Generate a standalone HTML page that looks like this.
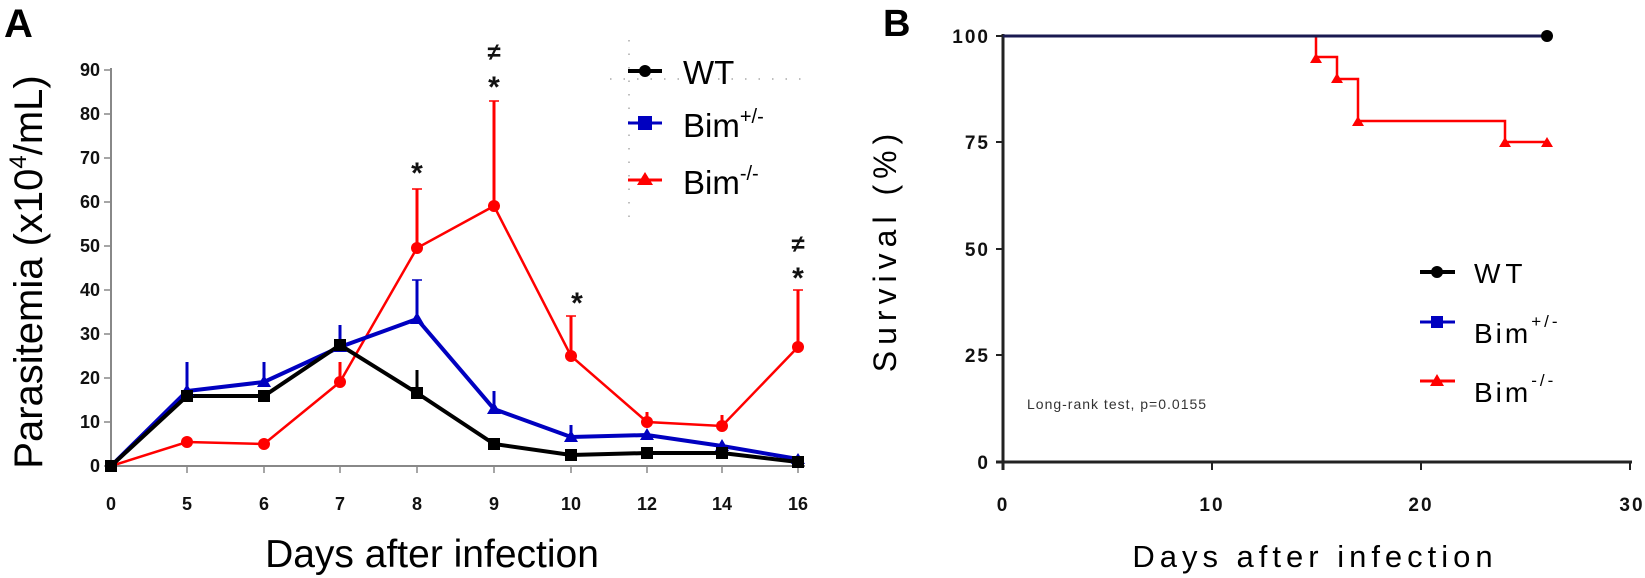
<!DOCTYPE html>
<html><head><meta charset="utf-8"><style>
html,body{margin:0;padding:0;background:#fff;}
svg{display:block;font-family:"Liberation Sans",Arial,sans-serif;}
</style></head><body>
<svg width="1645" height="578" viewBox="0 0 1645 578" xmlns="http://www.w3.org/2000/svg">
<!-- Panel A -->
<text x="4" y="37" font-size="40" font-weight="bold">A</text>
<text transform="translate(42,272) rotate(-90)" text-anchor="middle" font-size="40">Parasitemia (x10<tspan font-size="24" dy="-16">4</tspan><tspan dy="16">/mL)</tspan></text>
<g stroke="#888" stroke-width="2" fill="none">
<line x1="111" y1="68" x2="111" y2="467"/>
<line x1="111" y1="466" x2="805" y2="466"/>
<g stroke-width="1.5">
<line x1="104" y1="70" x2="111" y2="70"/><line x1="104" y1="114" x2="111" y2="114"/><line x1="104" y1="158" x2="111" y2="158"/><line x1="104" y1="202" x2="111" y2="202"/><line x1="104" y1="246" x2="111" y2="246"/><line x1="104" y1="290" x2="111" y2="290"/><line x1="104" y1="334" x2="111" y2="334"/><line x1="104" y1="378" x2="111" y2="378"/><line x1="104" y1="422" x2="111" y2="422"/><line x1="104" y1="466" x2="111" y2="466"/>
<line x1="187" y1="466" x2="187" y2="473"/><line x1="264" y1="466" x2="264" y2="473"/><line x1="340" y1="466" x2="340" y2="473"/><line x1="417" y1="466" x2="417" y2="473"/><line x1="494" y1="466" x2="494" y2="473"/><line x1="571" y1="466" x2="571" y2="473"/><line x1="647" y1="466" x2="647" y2="473"/><line x1="722" y1="466" x2="722" y2="473"/><line x1="798" y1="466" x2="798" y2="473"/>
</g></g>
<g font-size="18" font-weight="bold" text-anchor="end" fill="#111">
<text x="100" y="76">90</text><text x="100" y="120">80</text><text x="100" y="164">70</text><text x="100" y="208">60</text><text x="100" y="252">50</text><text x="100" y="296">40</text><text x="100" y="340">30</text><text x="100" y="384">20</text><text x="100" y="428">10</text><text x="100" y="472">0</text>
</g>
<g font-size="18" font-weight="bold" text-anchor="middle" fill="#111">
<text x="111" y="510">0</text><text x="187" y="510">5</text><text x="264" y="510">6</text><text x="340" y="510">7</text><text x="417" y="510">8</text><text x="494" y="510">9</text><text x="571" y="510">10</text><text x="647" y="510">12</text><text x="722" y="510">14</text><text x="798" y="510">16</text>
</g>
<text x="432" y="567" font-size="39" text-anchor="middle">Days after infection</text>
<!-- legend A -->
<g stroke="#aaa" stroke-width="1.5" stroke-dasharray="1.5 12" fill="none">
<line x1="610" y1="79" x2="805" y2="79"/><line x1="629" y1="40" x2="629" y2="218"/>
</g>
<line x1="628" y1="71" x2="662" y2="71" stroke="#000" stroke-width="4"/><circle cx="645" cy="71" r="6" fill="#000"/>
<line x1="628" y1="123" x2="662" y2="123" stroke="#0000c0" stroke-width="3"/><rect x="638" y="116" width="14" height="14" fill="#0000c0"/>
<line x1="628" y1="180" x2="662" y2="180" stroke="#f00" stroke-width="3"/><polygon points="645,172 653,185 637,185" fill="#f00"/>
<text x="683" y="84" font-size="33">WT</text>
<text x="683" y="137" font-size="33">Bim<tspan font-size="20" dy="-14">+/-</tspan></text>
<text x="683" y="194" font-size="33">Bim<tspan font-size="20" dy="-14">-/-</tspan></text>
<!-- error bars -->
<g stroke-width="3" fill="none">
<g stroke="#000"><line x1="187" y1="396" x2="187" y2="383"/><line x1="340" y1="345" x2="340" y2="328"/><line x1="417" y1="393" x2="417" y2="370"/></g>
<g stroke="#0000c0"><line x1="187" y1="391" x2="187" y2="362"/><line x1="264" y1="382" x2="264" y2="362"/><line x1="340" y1="347" x2="340" y2="325"/><line x1="417" y1="319" x2="417" y2="280"/><line x1="494" y1="409" x2="494" y2="391"/><line x1="571" y1="437" x2="571" y2="425"/></g>
<g stroke="#f00"><line x1="340" y1="382" x2="340" y2="362"/><line x1="417" y1="248" x2="417" y2="189"/><line x1="494" y1="206" x2="494" y2="101"/><line x1="571" y1="356" x2="571" y2="316"/><line x1="647" y1="422" x2="647" y2="412"/><line x1="722" y1="426" x2="722" y2="415"/><line x1="798" y1="347" x2="798" y2="290"/></g>
</g>
<g stroke-width="1.5"><line x1="412" y1="189" x2="422" y2="189" stroke="#f00"/><line x1="489" y1="101" x2="499" y2="101" stroke="#f00"/><line x1="566" y1="316" x2="576" y2="316" stroke="#f00"/><line x1="793" y1="290" x2="803" y2="290" stroke="#f00"/><line x1="412" y1="280" x2="422" y2="280" stroke="#0000c0"/></g>
<!-- series -->
<polyline points="111,466 187,442 264,444 340,382 417,248 494,206 571,356 647,422 722,426 798,347" fill="none" stroke="#f00" stroke-width="2.5"/>
<polyline points="111,466 187,391 264,382 340,347 417,319 494,409 571,437 647,435 722,446 798,459" fill="none" stroke="#0000c0" stroke-width="4"/>
<polyline points="111,466 187,396 264,396 340,345 417,393 494,444 571,455 647,453 722,453 798,462" fill="none" stroke="#000" stroke-width="4"/>
<g fill="#f00"><circle cx="187" cy="442" r="6"/><circle cx="264" cy="444" r="6"/><circle cx="340" cy="382" r="6"/><circle cx="417" cy="248" r="6"/><circle cx="494" cy="206" r="6"/><circle cx="571" cy="356" r="6"/><circle cx="647" cy="422" r="6"/><circle cx="722" cy="426" r="6"/><circle cx="798" cy="347" r="6"/></g>
<g fill="#0000c0"><polygon points="187,384 194,396 180,396"/><polygon points="264,375 271,387 257,387"/><polygon points="340,340 347,352 333,352"/><polygon points="417,312 424,324 410,324"/><polygon points="494,402 501,414 487,414"/><polygon points="571,430 578,442 564,442"/><polygon points="647,428 654,440 640,440"/><polygon points="722,439 729,451 715,451"/><polygon points="798,453 805,464 791,464"/></g>
<g fill="#000"><rect x="105" y="460" width="12" height="12"/><rect x="181" y="390" width="12" height="12"/><rect x="258" y="390" width="12" height="12"/><rect x="334" y="339" width="12" height="12"/><rect x="411" y="387" width="12" height="12"/><rect x="488" y="438" width="12" height="12"/><rect x="565" y="449" width="12" height="12"/><rect x="641" y="447" width="12" height="12"/><rect x="716" y="447" width="12" height="12"/><rect x="792" y="456" width="12" height="12"/></g>
<g font-size="30" font-weight="bold" text-anchor="middle" fill="#111">
<text x="417" y="183">*</text><text x="494" y="97">*</text><text x="577" y="313">*</text><text x="798" y="288">*</text>
</g>
<g font-size="24" font-weight="bold" text-anchor="middle" fill="#111"><text x="494" y="60">≠</text><text x="798" y="252">≠</text></g>

<!-- Panel B -->
<text x="883" y="36" font-size="38" font-weight="bold">B</text>
<text transform="translate(896,250) rotate(-90)" text-anchor="middle" font-size="32" letter-spacing="6">Survival (%)</text>
<g stroke="#222" stroke-width="3" fill="none">
<line x1="1003" y1="34" x2="1003" y2="470"/><line x1="996" y1="462" x2="1632" y2="462"/>
<g stroke-width="2"><line x1="996" y1="36" x2="1003" y2="36"/><line x1="996" y1="142" x2="1003" y2="142"/><line x1="996" y1="249" x2="1003" y2="249"/><line x1="996" y1="355" x2="1003" y2="355"/>
<line x1="1212" y1="462" x2="1212" y2="470"/><line x1="1421" y1="462" x2="1421" y2="470"/><line x1="1630" y1="462" x2="1630" y2="470"/></g>
</g>
<g font-size="19" font-weight="bold" text-anchor="end" fill="#111" letter-spacing="2">
<text x="990" y="43">100</text><text x="990" y="149">75</text><text x="990" y="256">50</text><text x="990" y="362">25</text><text x="990" y="469">0</text>
</g>
<g font-size="19" font-weight="bold" text-anchor="middle" fill="#111" letter-spacing="2">
<text x="1003" y="511">0</text><text x="1212" y="511">10</text><text x="1421" y="511">20</text><text x="1632" y="511">30</text>
</g>
<text x="1315" y="567" font-size="31" text-anchor="middle" letter-spacing="5">Days after infection</text>
<polyline points="1003,36 1316,36 1316,57 1337,57 1337,79 1358,79 1358,121 1505,121 1505,142 1547,142" fill="none" stroke="#f00" stroke-width="2.5"/>
<line x1="1003" y1="36" x2="1547" y2="36" stroke="#1a1a50" stroke-width="3"/>
<circle cx="1547" cy="36" r="6" fill="#000"/>
<g fill="#f00"><polygon points="1316,53 1322,63 1310,63"/><polygon points="1337,73 1343,83 1331,83"/><polygon points="1358,116 1364,126 1352,126"/><polygon points="1505,137 1511,147 1499,147"/><polygon points="1547,137 1553,147 1541,147"/></g>
<text x="1027" y="409" font-size="14" fill="#333" letter-spacing="1">Long-rank test, p=0.0155</text>
<line x1="1420" y1="272" x2="1455" y2="272" stroke="#000" stroke-width="4"/><circle cx="1437" cy="272" r="6" fill="#000"/>
<line x1="1420" y1="322" x2="1455" y2="322" stroke="#0000c0" stroke-width="3"/><rect x="1431" y="316" width="12" height="12" fill="#0000c0"/>
<line x1="1420" y1="381" x2="1455" y2="381" stroke="#f00" stroke-width="3"/><polygon points="1437,374 1444,386 1430,386" fill="#f00"/>
<text x="1474" y="283" font-size="28" letter-spacing="5">WT</text>
<text x="1474" y="343" font-size="28" letter-spacing="3">Bim<tspan font-size="17" dy="-16">+/-</tspan></text>
<text x="1474" y="402" font-size="28" letter-spacing="3">Bim<tspan font-size="17" dy="-16">-/-</tspan></text>
</svg>
</body></html>
